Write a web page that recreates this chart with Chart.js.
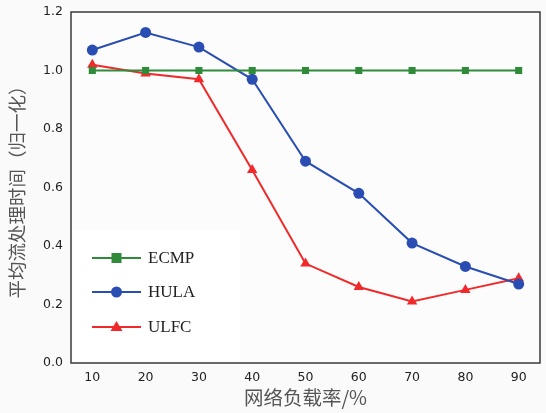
<!DOCTYPE html>
<html><head><meta charset="utf-8">
<script src="https://cdn.jsdelivr.net/npm/chart.js@4"></script>
<style>html,body{margin:0;padding:0;background:#fafafa;}#wrap{width:546px;height:413px;}</style>
</head><body><div id="wrap"><canvas id="c" width="546" height="413"></canvas></div>
<script>
const loads = [10, 20, 30, 40, 50, 60, 70, 80, 90];
const ecmp = [1.0, 1.0, 1.0, 1.0, 1.0, 1.0, 1.0, 1.0, 1.0];
const hula = [1.07, 1.13, 1.08, 0.97, 0.69, 0.58, 0.41, 0.33, 0.27];
const ulfc = [1.02, 0.99, 0.97, 0.66, 0.34, 0.26, 0.21, 0.25, 0.29];
const yTicks = [0, 0.2, 0.4, 0.6, 0.8, 1.0, 1.2];
const seriesNames = ['ECMP', 'HULA', 'ULFC'];

const pts = arr => arr.map((v, i) => ({x: loads[i], y: v}));
const GREEN = '#2f8a3a', BLUE = '#2a4db3', RED = '#f02a2a';

const frame = {
  id: 'frame',
  beforeDraw(chart) {
    const {ctx, chartArea: a} = chart;
    ctx.save();
    ctx.fillStyle = '#fcfcfc';
    ctx.fillRect(a.left, a.top, a.right - a.left, a.bottom - a.top);
    ctx.restore();
  },
  afterDatasetsDraw(chart) {
    const {ctx, chartArea: a} = chart;
    ctx.save();
    const lx = 73, ly = 230, lw = 167, lh = 131;
    ctx.fillStyle = '#ffffff';
    ctx.fillRect(lx, ly, lw, lh);
    const rows = [258, 292, 327];
    chart.data.datasets.forEach((ds, i) => {
      const y = rows[i];
      ctx.strokeStyle = ds.borderColor;
      ctx.lineWidth = 2;
      ctx.beginPath(); ctx.moveTo(92, y); ctx.lineTo(141, y); ctx.stroke();
      ctx.fillStyle = ds.backgroundColor;
      const cx = 116.5;
      if (ds.pointStyle === 'rect') { ctx.fillRect(cx - 5, y - 5, 10, 10); }
      else if (ds.pointStyle === 'circle') { ctx.beginPath(); ctx.arc(cx, y, 5.5, 0, Math.PI * 2); ctx.fill(); }
      else { ctx.beginPath(); ctx.moveTo(cx, y - 6); ctx.lineTo(cx + 6, y + 4); ctx.lineTo(cx - 6, y + 4); ctx.closePath(); ctx.fill(); }
      ctx.fillStyle = '#222';
      ctx.font = '17px "Liberation Serif", "Times New Roman", serif';
      ctx.textBaseline = 'middle';
      ctx.textAlign = 'left';
      ctx.fillText(ds.label, 148, y + 1);
    });
    ctx.strokeStyle = '#3a3a3a';
    ctx.lineWidth = 1.5;
    ctx.strokeRect(a.left, a.top, a.right - a.left, a.bottom - a.top);
    ctx.restore();
  }
};

new Chart(document.getElementById('c'), {
  type: 'line',
  data: {
    datasets: [
      {label: seriesNames[0], data: pts(ecmp), borderColor: GREEN, backgroundColor: GREEN, pointStyle: 'rect', pointRadius: 5, borderWidth: 2, pointBorderWidth: 0},
      {label: seriesNames[1], data: pts(hula), borderColor: BLUE, backgroundColor: BLUE, pointStyle: 'circle', pointRadius: 5.5, borderWidth: 2, pointBorderWidth: 0},
      {label: seriesNames[2], data: pts(ulfc), borderColor: RED, backgroundColor: RED, pointStyle: 'triangle', pointRadius: 6, borderWidth: 2, pointBorderWidth: 0}
    ]
  },
  options: {
    responsive: false,
    animation: false,
    layout: {padding: {top: 12, right: 1, left: 0, bottom: 0}},
    plugins: {legend: {display: false}, tooltip: {enabled: false}},
    scales: {
      x: {
        type: 'linear', min: 6, max: 94,
        afterBuildTicks: s => { s.ticks = loads.map(v => ({value: v})); },
        afterFit: s => { s.height = 50; },
        grid: {display: false, drawTicks: true, tickLength: 4, tickColor: '#3a3a3a'},
        border: {display: false},
        ticks: {color: '#222', font: {family: '"DejaVu Sans"', size: 12.5}, padding: 3, maxRotation: 0},
        title: {display: true, text: '网络负载率/%', color: '#555', font: {family: '"Noto Sans CJK SC"', size: 19.5}, padding: {top: 0}}
      },
      y: {
        min: 0, max: 1.2,
        afterBuildTicks: s => { s.ticks = yTicks.map(v => ({value: v})); },
        afterFit: s => { s.width = 71; },
        grid: {display: false, drawTicks: true, tickLength: 4, tickColor: '#3a3a3a'},
        border: {display: false},
        ticks: {color: '#222', font: {family: '"DejaVu Sans"', size: 12.5}, padding: 4, callback: v => v.toFixed(1)},
        title: {display: true, text: '平均流处理时间（归一化）', color: '#555', font: {family: '"Noto Sans CJK SC"', size: 18.5}, padding: {top: 6, bottom: 0}}
      }
    }
  },
  plugins: [frame]
});
</script></body></html>
